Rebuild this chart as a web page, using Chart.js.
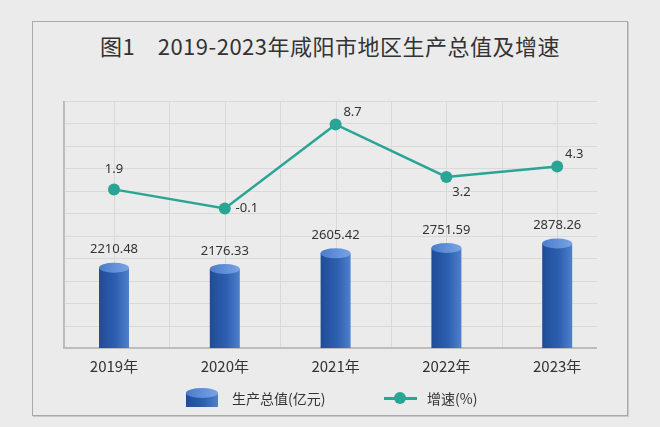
<!DOCTYPE html>
<html>
<head>
<meta charset="utf-8">
<script src="https://cdn.jsdelivr.net/npm/chart.js@4.4.1/dist/chart.umd.min.js"></script>
<style>
  html, body { margin: 0; padding: 0; background: #ebebeb; }
  #wrap { position: relative; width: 660px; height: 427px; overflow: hidden;
          font-family: "Noto Sans CJK SC", "Noto Sans", sans-serif; color: #333; }
  .panel { position: absolute; left: 32px; top: 21px; width: 594px; height: 393px;
           border: 1px solid #a9a9a9; box-shadow: 1px 1px 0 #c9c9c9; }
  .title { position: absolute; left: 0; width: 660px; top: 30px; text-align: center;
           font-size: 22px; line-height: 30px; letter-spacing: 0.5px; color: #333; }
  #c { position: absolute; left: 0; top: 0; }
  .lg-text { position: absolute; top: 388px; font-size: 14px; line-height: 20px; color: #333; }
  .lg-cyl { position: absolute; left: 186px; top: 393px; width: 32px; height: 14px;
            background: linear-gradient(to right, #1f4c98, #2d5fb0 55%, #4f80cc); }
  .lg-cyl::before { content: ""; position: absolute; left: 0; top: -5px; width: 32px; height: 10px;
                    border-radius: 50%; background: linear-gradient(to right, #4a7ccc, #79a4e4); }
  .lg-line { position: absolute; left: 384px; top: 397px; width: 33px; height: 2.5px; background: #2aa595; }
  .lg-dot { position: absolute; left: 394px; top: 392px; width: 12px; height: 12px;
            border-radius: 50%; background: #2aa595; }
</style>
</head>
<body>
<div id="wrap">
  <div class="panel"></div>
  <div class="title">图1　2019-2023年咸阳市地区生产总值及增速</div>
  <canvas id="c" width="660" height="427"></canvas>
  <div class="lg-cyl"></div>
  <div class="lg-text" style="left:232px">生产总值(亿元)</div>
  <div class="lg-line"></div>
  <div class="lg-dot"></div>
  <div class="lg-text" style="left:427px">增速(%)</div>
</div>
<script>
const YEARS = ["2019年", "2020年", "2021年", "2022年", "2023年"];
const GDP = [2210.48, 2176.33, 2605.42, 2751.59, 2878.26];   // 亿元
const GROWTH = [1.9, -0.1, 8.7, 3.2, 4.3];                    // %

// where each growth label sits relative to its point
const RATE_LABEL_POS = ["above", "right", "upRight", "downRight", "upRight"];
const LABEL_OFFSET = {
  above: [0, -20], right: [22, 0], upRight: [17, -12], downRight: [15, 15],
};

const TEAL = "#2aa595";
const INK = "#333333";
const GRID = "#d9d9d9";
const AXIS = "#bdbdbd";
const GRID_LEFT = 64, GRID_RIGHT = 597;

function drawCylinder(ctx, x, top, bottom, w) {
  const rx = w / 2, ry = 5;
  const body = ctx.createLinearGradient(x - rx, 0, x + rx, 0);
  body.addColorStop(0, "#1f4c98");
  body.addColorStop(0.55, "#2d5fb0");
  body.addColorStop(1, "#4f80cc");
  ctx.fillStyle = body;
  ctx.fillRect(x - rx, top, w, bottom - top);
  const cap = ctx.createLinearGradient(x - rx, top, x + rx, top);
  cap.addColorStop(0, "#4a7ccc");
  cap.addColorStop(1, "#79a4e4");
  ctx.fillStyle = cap;
  ctx.beginPath();
  ctx.ellipse(x, top, rx, ry, 0, 0, Math.PI * 2);
  ctx.fill();
}

// background grid + axis lines, clipped to the panel's plot box
const gridPlugin = {
  id: "grid",
  beforeDatasetsDraw(chart) {
    const { ctx, scales: { x, y } } = chart;
    const top = y.getPixelForValue(y.max), bottom = y.getPixelForValue(y.min);
    ctx.save();
    ctx.strokeStyle = GRID;
    ctx.lineWidth = 1;
    ctx.beginPath();
    y.ticks.forEach((t) => {
      const py = Math.round(y.getPixelForValue(t.value)) + 0.5;
      ctx.moveTo(GRID_LEFT, py); ctx.lineTo(GRID_RIGHT, py);
    });
    const half = (x.getPixelForValue(1) - x.getPixelForValue(0)) / 2;
    for (let i = 0; i < YEARS.length; i++) {
      [x.getPixelForValue(i), x.getPixelForValue(i) + half].forEach((px) => {
        if (px <= GRID_LEFT || px >= GRID_RIGHT) return;
        px = Math.round(px) + 0.5;
        ctx.moveTo(px, top); ctx.lineTo(px, bottom);
      });
    }
    ctx.stroke();
    ctx.strokeStyle = AXIS;
    ctx.lineWidth = 2;
    ctx.beginPath();
    ctx.moveTo(GRID_LEFT, top); ctx.lineTo(GRID_LEFT, bottom);
    ctx.lineTo(GRID_RIGHT, bottom);
    ctx.stroke();
    ctx.restore();
  },
  afterDatasetDraw(chart, args) {
    if (args.index !== 0) return;
    const { ctx } = chart;
    ctx.save();
    args.meta.data.forEach((bar, i) => {
      drawCylinder(ctx, bar.x, bar.y, bar.base, bar.width);
      ctx.fillStyle = INK;
      ctx.font = "13px 'Noto Sans', sans-serif";
      ctx.textAlign = "center";
      ctx.textBaseline = "middle";
      ctx.fillText(GDP[i].toFixed(2), bar.x, bar.y - 18);
    });
    ctx.restore();
  },
  afterDatasetsDraw(chart) {
    const { ctx } = chart;
    const meta = chart.getDatasetMeta(1);
    ctx.save();
    ctx.fillStyle = INK;
    ctx.font = "13px 'Noto Sans', sans-serif";
    ctx.textAlign = "center";
    ctx.textBaseline = "middle";
    meta.data.forEach((pt, i) => {
      const [dx, dy] = LABEL_OFFSET[RATE_LABEL_POS[i]];
      ctx.fillText(GROWTH[i].toFixed(1), pt.x + dx, pt.y + dy);
    });
    ctx.restore();
  },
};

new Chart(document.getElementById("c"), {
  type: "bar",
  data: {
    labels: YEARS,
    datasets: [
      {
        type: "bar",
        label: "生产总值(亿元)",
        data: GDP,
        yAxisID: "y",
        backgroundColor: "transparent",
        barThickness: 30,
        order: 2,
      },
      {
        type: "line",
        label: "增速(%)",
        data: GROWTH,
        yAxisID: "y1",
        borderColor: TEAL,
        borderWidth: 2.5,
        pointRadius: 6,
        pointBackgroundColor: TEAL,
        pointBorderColor: TEAL,
        pointBorderWidth: 0,
        tension: 0,
        order: 1,
      },
    ],
  },
  options: {
    responsive: false,
    animation: false,
    layout: { padding: { left: 58.6, right: 47.4, top: 101, bottom: 39 } },
    scales: {
      x: {
        type: "category",
        offset: true,
        grid: { display: false, drawTicks: false },
        border: { display: false },
        ticks: { color: INK, font: { size: 15, family: "'Noto Sans CJK SC', sans-serif" }, padding: 9 },
        afterFit(scale) { scale.height = 40; },
      },
      y: { display: false, min: 0, max: 6800, ticks: { count: 12 } },
      y1: { display: false, min: -14.7, max: 11.15 },
    },
    plugins: { legend: { display: false }, tooltip: { enabled: false } },
  },
  plugins: [gridPlugin],
});
</script>
</body>
</html>
